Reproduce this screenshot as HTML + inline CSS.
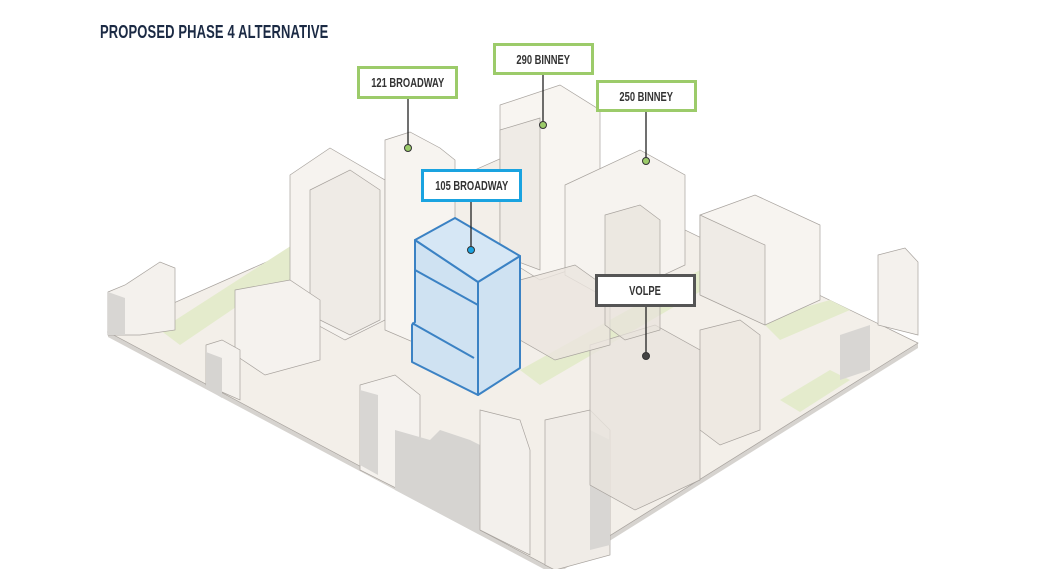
<!DOCTYPE html>
<html><head><meta charset="utf-8"><style>
body{margin:0;background:#fff;width:1043px;height:569px;overflow:hidden;position:relative;font-family:"Liberation Sans",sans-serif}
.t{position:absolute;left:100px;top:22px;font-weight:bold;font-size:18px;color:#1b2a44;transform:scaleX(0.72);transform-origin:left;letter-spacing:0.2px}
.lb{position:absolute;background:#fff;border:3px solid #9ccb6a;box-sizing:border-box;font-weight:bold;font-size:13px;color:#333;display:flex;align-items:center;justify-content:center}
.lb span{transform:scaleX(0.72);white-space:nowrap}
</style></head><body>
<svg width="1043" height="569" style="position:absolute;left:0;top:0">
<g stroke="#a8a39e" stroke-width="0.7">
<!-- base -->
<polygon points="108,332 108,337 555,575 918,348 918,343 555,570" fill="#d6d3cf" stroke="none"/>
<polygon points="108,332 520,150 918,343 555,570" fill="#f3efe9"/>
<!-- green strips -->
<polygon points="160,330 300,240 320,250 180,345" fill="#e4ebcc" stroke="none"/>
<polygon points="520,370 700,270 720,280 540,385" fill="#e4ebcc" stroke="none"/>
<polygon points="760,320 830,300 850,310 780,340" fill="#e4ebcc" stroke="none"/>
<polygon points="780,400 830,370 850,380 800,412" fill="#e4ebcc" stroke="none"/>
<polygon points="250,290 330,250 340,260 260,300" fill="#e4ebcc" stroke="none"/>
<!-- buildings back -->
<polygon points="290,175 330,148 385,180 385,320 345,340 290,310" fill="#f6f3ef"/>
<polygon points="310,190 350,170 380,190 380,320 350,335 310,315" fill="#efebe6"/>
<polygon points="385,140 410,132 440,148 455,160 455,335 420,345 385,330" fill="#f7f4f0"/>
<polygon points="500,105 560,85 600,110 600,260 540,280 500,255" fill="#f8f5f1"/>
<polygon points="500,130 540,118 540,270 500,255" fill="#efebe6"/>
<polygon points="565,185 640,150 685,175 685,265 610,300 565,275" fill="#f6f3ef"/>
<polygon points="700,215 755,195 820,225 820,300 765,325 700,295" fill="#f7f4f0"/>
<polygon points="700,215 765,245 765,325 700,295" fill="#efebe6"/>
<polygon points="235,290 290,280 320,300 320,360 265,375 235,355" fill="#f5f2ee"/>
<polygon points="108,292 125,285 160,262 175,268 175,330 140,335 108,335" fill="#f4f1ed"/>
<polygon points="108,292 125,298 125,335 108,335" fill="#d8d6d3" stroke="none"/>
<polygon points="878,255 905,248 918,262 918,335 878,325" fill="#f4f1ed"/>
<polygon points="840,335 870,325 870,370 840,380" fill="#d8d6d3" stroke="none"/>
<!-- front left buildings -->
<polygon points="206,345 222,340 240,350 240,400 206,385" fill="#f4f1ed"/>
<polygon points="206,352 222,358 222,398 206,388" fill="#d6d4d1" stroke="none"/>
<polygon points="360,385 395,375 420,395 420,500 360,470" fill="#f5f2ee"/>
<polygon points="360,390 378,395 378,475 360,465" fill="#d8d6d3" stroke="none"/>
<polygon points="395,430 430,440 440,430 470,440 480,445 480,535 395,490" fill="#d6d4d1" stroke="none"/>
<polygon points="480,410 520,420 530,450 530,555 480,530" fill="#f3f0ec"/>
<polygon points="545,420 590,410 610,430 610,555 555,570 545,565" fill="#f0ece7"/>
<polygon points="590,430 610,440 610,545 590,550" fill="#d8d6d3" stroke="none"/>
<!-- volpe translucent -->
<polygon points="590,345 655,325 700,350 700,480 635,510 590,485" fill="#e9e4dd" fill-opacity="0.8"/>
<polygon points="700,330 740,320 760,335 760,430 720,445 700,430" fill="#ece7e0" fill-opacity="0.8"/>
<polygon points="520,280 575,265 610,290 610,345 555,360 520,340" fill="#ebe5de" fill-opacity="0.8"/>
<polygon points="605,215 640,205 660,220 660,330 625,340 605,325" fill="#e8e2db" fill-opacity="0.7"/>
</g>
<!-- blue tower -->
<g stroke="#3b82c4" stroke-width="2" fill="#cfe2f2" stroke-linejoin="round">
<polygon points="478,282 520,256 520,368 478,395"/>
<polygon points="415,240 478,282 478,395 412,362 412,325 415,322"/>
<polygon points="415,240 455,218 520,256 478,282" fill="#d6e7f5"/>
<line x1="415" y1="270" x2="478" y2="305"/>
<line x1="412" y1="323" x2="474" y2="358"/>
</g>
<!-- leaders -->
<g stroke="#222" stroke-width="1.3">
<line x1="408" y1="98" x2="408" y2="148"/>
<line x1="543" y1="74" x2="543" y2="124"/>
<line x1="646" y1="111" x2="646" y2="160"/>
<line x1="471" y1="201" x2="471" y2="250"/>
<line x1="646" y1="306" x2="646" y2="355"/>
</g>
<g stroke="#333" stroke-width="1">
<circle cx="408" cy="148" r="3.5" fill="#9ccb6a"/>
<circle cx="543" cy="125" r="3.5" fill="#9ccb6a"/>
<circle cx="646" cy="161" r="3.5" fill="#9ccb6a"/>
<circle cx="471" cy="250" r="3.5" fill="#1aa3e0"/>
<circle cx="646" cy="356" r="3.5" fill="#444"/>
</g>
</svg>
<div class="t">PROPOSED PHASE 4 ALTERNATIVE</div>
<div class="lb" style="left:357px;top:66px;width:101px;height:33px"><span>121 BROADWAY</span></div>
<div class="lb" style="left:493px;top:43px;width:101px;height:32px"><span>290 BINNEY</span></div>
<div class="lb" style="left:596px;top:80px;width:101px;height:32px"><span>250 BINNEY</span></div>
<div class="lb" style="left:421px;top:169px;width:101px;height:33px;border-color:#1aa3e0"><span>105 BROADWAY</span></div>
<div class="lb" style="left:595px;top:274px;width:101px;height:33px;border-color:#555"><span>VOLPE</span></div>
</body></html>
